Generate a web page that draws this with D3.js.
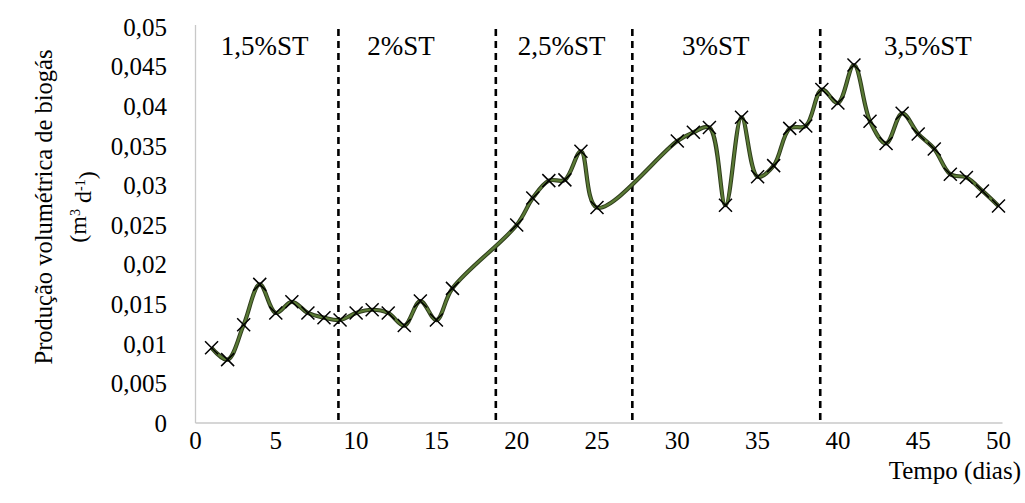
<!DOCTYPE html>
<html>
<head>
<meta charset="utf-8">
<style>
  body { margin: 0; background: #fff; }
  text { font-family: "Liberation Serif", "Times New Roman", serif; fill: #000; }
</style>
<script src="https://d3js.org/d3.v7.min.js"></script>
</head>
<body>
<div id="chart"></div>
<script>

  // dias medidos e producao de biogas (m3 d-1)
  const days = [1, 2, 3, 4, 5, 6, 7, 8, 9, 10, 11, 12, 13, 14, 15, 16,
    20, 21, 22, 23, 24, 25,
    30, 31, 32, 33, 34, 35, 36, 37, 38, 39, 40, 41, 42, 43, 44, 45, 46, 47, 48, 49, 50]
  const biogas = [0.0095, 0.0080, 0.0124, 0.0175, 0.0139, 0.0153, 0.0139, 0.0133, 0.0130, 0.0139,
    0.0143, 0.0139, 0.0123, 0.0154, 0.0130, 0.0170,
    0.0250, 0.0284, 0.0306, 0.0307, 0.0343, 0.0272,
    0.0356, 0.0367, 0.0373, 0.0275, 0.0386, 0.0311, 0.0325, 0.0372, 0.0375, 0.0421,
    0.0404, 0.0452, 0.0381, 0.0353, 0.0391, 0.0365, 0.0346, 0.0314, 0.0310, 0.0293, 0.0274]

  // separacoes entre as fases (dias) e rotulos
  const phaseBreaks = [8.9, 18.7, 27.2, 38.9]
  const phaseLabels = ['1,5%ST', '2%ST', '2,5%ST', '3%ST', '3,5%ST']
  const phaseLabelX = [4.3, 12.8, 22.8, 32.4, 45.6]

  const xTicks = [0, 5, 10, 15, 20, 25, 30, 35, 40, 45, 50]
  const yTicks = [0, 0.005, 0.01, 0.015, 0.02, 0.025, 0.03, 0.035, 0.04, 0.045, 0.05]

  const width = 1025
  const height = 503

  const svg = d3.select('#chart').append('svg')
    .attr('width', width)
    .attr('height', height)

  const x = d3.scaleLinear().domain([0, 50]).range([195.5, 998.5])
  const y = d3.scaleLinear().domain([0, 0.05]).range([423, 27])

  const fmt = v => v === 0 ? '0' : String(+v.toFixed(3)).replace('.', ',')

  // eixos (linhas cinzas, sem marcas)
  svg.append('line')
    .attr('x1', x(0)).attr('x2', x(0))
    .attr('y1', y(0.05) - 2).attr('y2', y(0))
    .style('stroke', '#c8c8c8').style('stroke-width', 1.3)
  svg.append('line')
    .attr('x1', x(0)).attr('x2', x(50) + 4)
    .attr('y1', y(0)).attr('y2', y(0))
    .style('stroke', '#c8c8c8').style('stroke-width', 1.3)

  svg.append('g').selectAll('text')
    .data(yTicks)
    .enter().append('text')
    .attr('x', 167)
    .attr('y', d => y(d))
    .attr('dy', '0.35em')
    .attr('text-anchor', 'end')
    .style('font-size', '25px')
    .text(fmt)

  svg.append('g').selectAll('text')
    .data(xTicks)
    .enter().append('text')
    .attr('x', d => x(d))
    .attr('y', 449)
    .attr('text-anchor', 'middle')
    .style('font-size', '25px')
    .text(d => d)

  // linhas tracejadas das fases
  svg.append('g').selectAll('line')
    .data(phaseBreaks)
    .enter().append('line')
    .attr('x1', d => x(d)).attr('x2', d => x(d))
    .attr('y1', y(0.05) + 2).attr('y2', y(0) + 1)
    .style('stroke', '#000')
    .style('stroke-width', 2.6)
    .style('stroke-dasharray', '7,5')

  svg.append('g').selectAll('text')
    .data(phaseLabels)
    .enter().append('text')
    .attr('x', (d, i) => x(phaseLabelX[i]))
    .attr('y', 55)
    .attr('text-anchor', 'middle')
    .style('font-size', '27px')
    .text(d => d)

  const points = days.map((d, i) => ({day: d, value: biogas[i]}))

  const line = d3.line()
    .x(d => x(d.day))
    .y(d => y(d.value))
    .curve(d3.curveCatmullRom.alpha(0.5))

  svg.append('path')
    .datum(points)
    .attr('d', line)
    .style('fill', 'none')
    .style('stroke', '#2f3d1c')
    .style('stroke-width', 4.2)
  svg.append('path')
    .datum(points)
    .attr('d', line)
    .style('fill', 'none')
    .style('stroke', '#5a7a35')
    .style('stroke-width', 2.2)

  const s = 6.5
  svg.append('g').selectAll('path')
    .data(points)
    .enter().append('path')
    .attr('d', d => {
      const cx = x(d.day), cy = y(d.value)
      return 'M' + (cx - s) + ',' + (cy - s) + 'L' + (cx + s) + ',' + (cy + s) +
        'M' + (cx - s) + ',' + (cy + s) + 'L' + (cx + s) + ',' + (cy - s)
    })
    .style('stroke', '#000')
    .style('stroke-width', 1.5)
    .style('fill', 'none')

  // titulos dos eixos
  svg.append('text')
    .attr('transform', 'translate(43,207) rotate(-90)')
    .attr('text-anchor', 'middle')
    .attr('dy', '0.35em')
    .style('font-size', '24.5px')
    .text('Produção volumétrica de biogás')

  const yl2 = svg.append('text')
    .attr('transform', 'translate(78,207) rotate(-90)')
    .attr('text-anchor', 'middle')
    .attr('dy', '0.35em')
    .style('font-size', '24px')
  yl2.append('tspan').text('(m')
  yl2.append('tspan').attr('dy', '-0.45em').style('font-size', '14px').text('3')
  yl2.append('tspan').attr('dy', '0.45em').text(' d')
  yl2.append('tspan').attr('dy', '-0.45em').style('font-size', '14px').text('-1')
  yl2.append('tspan').attr('dy', '0.45em').text(')')

  svg.append('text')
    .attr('x', 1021)
    .attr('y', 479)
    .attr('text-anchor', 'end')
    .style('font-size', '25px')
    .text('Tempo (dias)')

</script>
</body>
</html>
